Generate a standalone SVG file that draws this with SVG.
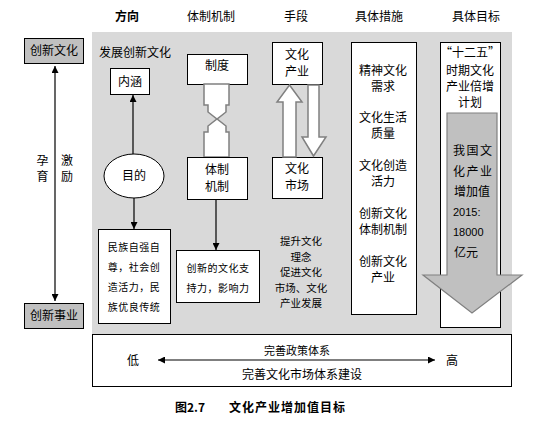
<svg xmlns="http://www.w3.org/2000/svg" width="546" height="424" viewBox="0 0 546 424">
<defs>
<style>
text{font-family:"Noto Sans CJK SC","Liberation Sans",sans-serif;font-size:12px;fill:#000;text-anchor:middle}
.b{font-weight:bold}
.box{fill:#fff;stroke:#000;stroke-width:1}
.gbox{fill:#c0c0c0;stroke:#000;stroke-width:1}
.pipe{fill:#fff;stroke:#808080;stroke-width:1.5}
.ln{stroke:#000;stroke-width:1.2;fill:none}
.sm{font-size:10px;letter-spacing:0.5px}
.ts{font-size:10.5px}
.num{font-family:"Liberation Sans",sans-serif;font-size:11px;text-anchor:start}
.l{text-anchor:start}
</style>
<marker id="ah" viewBox="0 0 10 10" refX="10" refY="5" markerWidth="7" markerHeight="7" markerUnits="userSpaceOnUse" orient="auto-start-reverse">
<path d="M0,0 L10,5 L0,10 z" fill="#000"/>
</marker>
</defs>
<rect width="546" height="424" fill="#fff"/>
<rect x="92" y="32" width="420" height="302" fill="#d9d9d9"/>

<g id="headers">
<text x="127" y="21" class="b">方向</text>
<text x="211" y="21">体制机制</text>
<text x="296" y="21">手段</text>
<text x="379" y="21">具体措施</text>
<text x="476" y="21">具体目标</text>
</g>

<g id="n-culture">
<rect class="gbox" x="24.5" y="38.5" width="59" height="25"/>
<text x="54" y="55">创新文化</text>
</g>
<g id="n-career">
<rect class="gbox" x="24.5" y="303.5" width="59" height="25"/>
<text x="54" y="320">创新事业</text>
</g>
<g id="n-side">
<text x="42.5" y="165">孕</text>
<text x="42.5" y="181">育</text>
<text x="67" y="165">激</text>
<text x="67" y="181">励</text>
</g>

<g id="n-fz">
<text x="99" y="57" class="l">发展创新文化</text>
</g>
<g id="n-neihan">
<rect class="box" x="110.5" y="68.5" width="39" height="26"/>
<text x="130" y="86">内涵</text>
</g>
<g id="n-mudi">
<ellipse cx="134" cy="176" rx="30" ry="22" fill="#fff" stroke="#000" stroke-width="1"/>
<text x="134" y="180">目的</text>
</g>
<g id="n-minzu">
<rect class="box" x="98.5" y="229.5" width="72" height="94"/>
<text x="134" y="251" class="sm">民族自强自</text>
<text x="134" y="271" class="sm">尊，社会创</text>
<text x="134" y="291" class="sm">造活力，民</text>
<text x="134" y="311" class="sm">族优良传统</text>
</g>

<g id="n-zhidu">
<rect class="box" x="187.5" y="54.5" width="60" height="30"/>
<text x="217" y="70">制度</text>
</g>
<g id="n-pipe">
<polygon class="pipe" points="204,84 229,84 229,105 226,105 226,112 217,119 208,112 208,105 204,105"/>
<polygon class="pipe" points="204,157 229,157 229,132 226,132 226,126 217,119 208,126 208,132 204,132"/>
</g>
<g id="n-tizhi">
<rect class="box" x="187.5" y="157.5" width="60" height="42"/>
<text x="217" y="174">体制</text>
<text x="217" y="191">机制</text>
</g>
<g id="n-chuangxin">
<rect class="box" x="176.5" y="250.5" width="83" height="52"/>
<text x="218" y="272" class="sm">创新的文化支</text>
<text x="218" y="292" class="sm">持力，影响力</text>
</g>

<g id="n-chanye">
<rect class="box" x="272.5" y="42.5" width="50" height="42"/>
<text x="297" y="59">文化</text>
<text x="297" y="76">产业</text>
</g>
<g id="n-shichang">
<rect class="box" x="272.5" y="157.5" width="50" height="41"/>
<text x="297" y="173">文化</text>
<text x="297" y="190">市场</text>
</g>
<g id="n-updown">
<polygon class="pipe" points="289.5,85 302,102 296,102 296,157 283,157 283,102 277,102"/>
<polygon class="pipe" points="313.5,156 326,137 319,137 319,85 308,85 308,137 302,137"/>
</g>
<g id="n-tisheng">
<text x="301" y="245" class="ts">提升文化</text>
<text x="301" y="260.5" class="ts">理念</text>
<text x="301" y="276" class="ts">促进文化</text>
<text x="301" y="291.5" class="ts">市场、文化</text>
<text x="301" y="307" class="ts">产业发展</text>
</g>

<g id="n-cuoshi">
<rect class="box" x="351.5" y="42.5" width="65" height="272"/>
<text x="383" y="75">精神文化</text>
<text x="383" y="91">需求</text>
<text x="383" y="122">文化生活</text>
<text x="383" y="138">质量</text>
<text x="383" y="170">文化创造</text>
<text x="383" y="186">活力</text>
<text x="383" y="218">创新文化</text>
<text x="383" y="234">体制机制</text>
<text x="383" y="266">创新文化</text>
<text x="383" y="282">产业</text>
</g>

<g id="n-mubiao">
<rect class="box" x="440.5" y="42.5" width="60" height="285"/>
<text x="470" y="57">“十二五”</text>
<text x="470" y="75">时期文化</text>
<text x="470" y="91">产业倍增</text>
<text x="470" y="107">计划</text>
<polygon points="447,113 497,113 497,275 522,275 472,313 423,275 447,275" fill="#c0c0c0" stroke="#808080" stroke-width="1.2"/>
<text x="453" y="155" class="l" style="letter-spacing:1.5px">我国文</text>
<text x="453" y="176" class="l" style="letter-spacing:1.5px">化产业</text>
<text x="454" y="196" class="l">增加值</text>
<text x="453" y="216" class="num">2015:</text>
<text x="453" y="236" class="num">18000</text>
<text x="454" y="257" class="l">亿元</text>
</g>

<g id="n-bottom">
<rect class="box" x="92.5" y="334.5" width="419" height="52"/>
<text x="297" y="355" style="font-size:11px">完善政策体系</text>
<text x="302" y="379">完善文化市场体系建设</text>
<text x="133" y="365">低</text>
<text x="452" y="365">高</text>
</g>

<g id="connectors">
<line class="ln" x1="55" y1="66" x2="55" y2="301" marker-start="url(#ah)" marker-end="url(#ah)"/>
<line class="ln" x1="133" y1="154" x2="133" y2="95" marker-end="url(#ah)"/>
<line class="ln" x1="134" y1="198" x2="134" y2="229" marker-end="url(#ah)"/>
<line class="ln" x1="216" y1="200" x2="216" y2="250" marker-end="url(#ah)"/>
<line class="ln" x1="158" y1="360" x2="435" y2="360" marker-start="url(#ah)" marker-end="url(#ah)"/>
</g>

<g id="caption">
<text x="175" y="412" class="b l">图2.7</text>
<text x="229" y="412" class="b l" style="letter-spacing:1px">文化产业增加值目标</text>
</g>
</svg>
